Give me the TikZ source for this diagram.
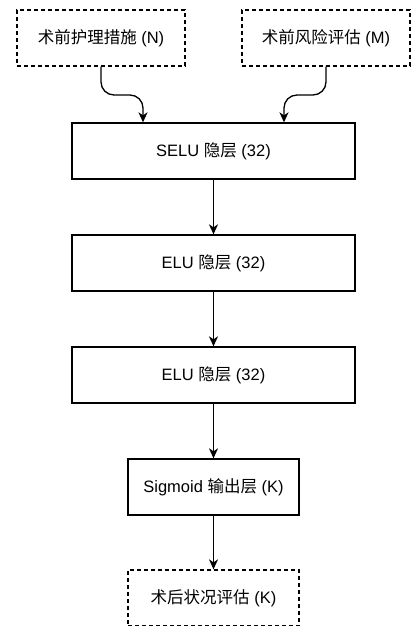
\documentclass[tikz,border=0pt]{standalone}
\usepackage{fontspec}
\setmainfont{Liberation Sans}
\newfontfamily\cjk{Noto Sans CJK SC}
\usetikzlibrary{arrows.meta}

\begin{document}
\begin{tikzpicture}[x=1pt,y=-1pt]
        \tikzset{every node/.append style={inner sep=0pt,font=\fontsize{16.5}{20}\selectfont},
          layer/.style={draw,line width=1.3pt,minimum height=56pt},
          datum/.style={layer,dash pattern=on 4pt off 3pt},
          flow/.style={line width=1.3pt,-{Stealth[length=10pt,width=9pt,inset=3pt]}}}
        \useasboundingbox (0,0) rectangle (411,626);
        \node [datum,minimum width=168pt] (nurse) at (101,38) {{\cjk 术前护理措施} (N)};
        \node [datum,minimum width=168pt] (risk) at (326,38) {{\cjk 术前风险评估} (M)};
        \node [layer,minimum width=283pt] (selu) at (213.5,151) {SELU {\cjk 隐层} (32)};
        \node [layer,minimum width=283pt] (elua) at (213.5,263) {ELU {\cjk 隐层} (32)};
        \node [layer,minimum width=283pt] (elub) at (213.5,375) {ELU {\cjk 隐层} (32)};
        \node [layer,minimum width=171pt] (sigm) at (213.5,487) {Sigmoid {\cjk 输出层} (K)};
        \node [datum,minimum width=171pt] (post) at (213.5,598) {{\cjk 术后状况评估} (K)};
        \draw [flow,rounded corners=13pt] (nurse.south) |- (143,95) -- (selu.north -| 143,0);
        \draw [flow,rounded corners=13pt] (risk.south) |- (284,95) -- (selu.north -| 284,0);
        \draw [flow] (selu) -- (elua);
        \draw [flow] (elua) -- (elub);
        \draw [flow] (elub) -- (sigm);
        \draw [flow] (sigm) -- (post);
    \end{tikzpicture}
\end{document}
